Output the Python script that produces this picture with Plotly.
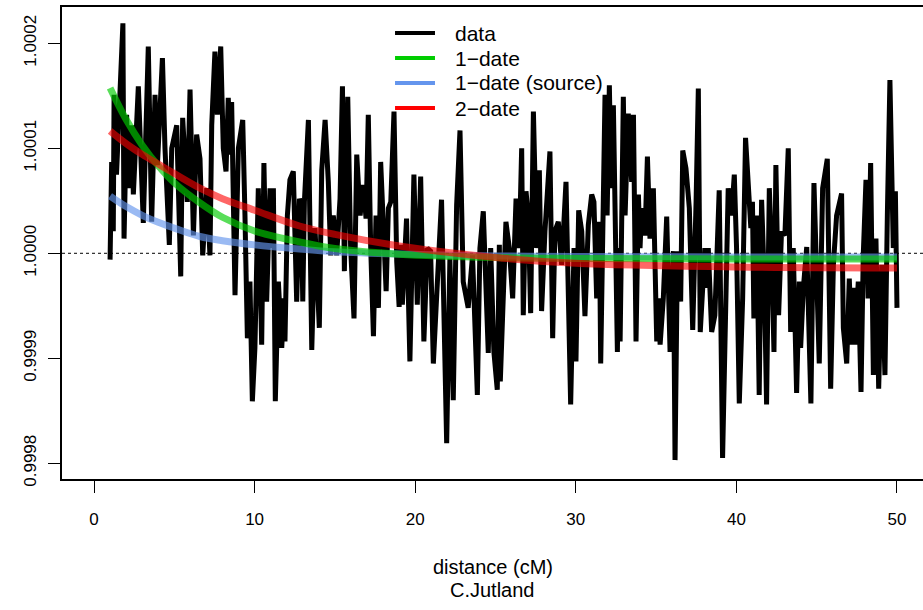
import plotly.graph_objects as go

# ---------------- data ----------------
data_x = [
    1.0, 1.1, 1.2, 1.25, 1.4, 1.8, 1.87, 2.03, 2.15, 2.35, 2.45, 2.76, 3.07, 3.38, 3.59, 3.8, 3.95, 4.26, 4.42, 4.69, 4.84, 5.15, 5.4, 5.52, 5.81, 5.98, 6.19, 6.39,
    6.6, 6.77, 7.02, 7.22, 7.33, 7.53, 7.68, 7.89, 8.05, 8.22, 8.36, 8.5, 8.57, 8.78, 8.99, 9.26, 9.4, 9.55, 9.71, 9.86, 10.02, 10.23, 10.44, 10.58, 10.75, 10.96, 11.06, 11.17, 11.29, 11.48, 11.69, 11.83, 11.89, 12.04, 12.2, 12.41, 12.62, 12.79,
    12.9, 13.0, 13.1, 13.35, 13.56, 13.76, 14.03, 14.18, 14.39, 14.59, 14.74, 14.9, 15.11, 15.32, 15.47, 15.59, 15.8, 15.98, 16.19, 16.36, 16.57, 16.77, 16.94, 17.08, 17.23, 17.4, 17.56, 17.71, 17.85, 18.02, 18.19, 18.33, 18.48, 18.68, 18.85, 19.0,
    19.1, 19.2, 19.46, 19.67, 19.92, 20.13, 20.34, 20.54, 20.75, 20.96, 21.13, 21.33, 21.64, 21.96, 22.16, 22.37, 22.58, 22.79, 22.99, 23.3, 23.57, 23.87, 24.03, 24.24, 24.4, 24.55, 24.7, 24.9, 25.11, 25.24,
    25.3, 25.49, 25.65, 25.86, 26.07, 26.28, 26.48, 26.63, 26.73, 26.9, 27.04, 27.19, 27.36, 27.56, 27.73, 27.87, 28.08, 28.39, 28.56, 28.7, 28.91, 29.12, 29.39, 29.54, 29.68, 29.89, 30.01, 30.18, 30.37, 30.57, 30.78, 30.99, 31.13, 31.3, 31.47,
    31.55, 31.65, 31.82, 31.95, 32.09, 32.2, 32.34, 32.59, 32.67, 32.76, 32.96, 33.07, 33.27, 33.48, 33.59, 33.75, 33.9, 34.0, 34.1, 34.31, 34.46, 34.62, 34.83, 35.04, 35.15, 35.25, 35.45, 35.66, 35.87, 36.08, 36.18, 36.33, 36.53, 36.66, 36.86, 37.07, 37.28, 37.49, 37.63,
    37.75, 38.04, 38.16, 38.25, 38.46, 38.66, 38.93, 39.14, 39.49, 39.7, 39.87, 40.01, 40.18, 40.39, 40.57, 40.78, 40.9, 41.0, 41.09, 41.26, 41.42, 41.57, 41.74, 41.88, 42.05, 42.19, 42.34, 42.46, 42.63, 42.81, 43.02, 43.23, 43.38, 43.54, 43.75, 43.92,
    44.0, 44.17, 44.38, 44.64, 44.83, 45.16, 45.37, 45.66, 45.87, 46.04, 46.24, 46.55, 46.66, 46.87, 47.03, 47.18, 47.3, 47.38, 47.59, 47.76, 47.9, 48.07, 48.2, 48.36, 48.53, 48.69, 48.86, 49.05, 49.25, 49.4, 49.56, 49.77, 49.9, 50.0,
]
data_y = [
    0.999994, 1.000087, 1.000021, 1.000151, 1.000075, 1.000219, 1.000014, 1.000132, 1.000062, 1.000122, 1.000056, 1.000159, 1.000029, 1.000197, 1.000030, 1.000151, 1.000084, 1.000186, 1.000100, 1.000008, 1.000100, 1.000122, 0.999978, 1.000129, 1.000049, 1.000156, 1.000017, 1.000113,
    1.000090, 0.999998, 1.000062, 0.999998, 1.000122, 1.000192, 1.000132, 1.000197, 1.000100, 1.000078, 1.000148, 1.000094, 1.000144, 0.999960, 1.000100, 1.000127, 1.000036, 0.999919, 0.999973, 0.999859, 0.999910, 1.000062, 0.999913, 1.000086, 0.999954, 1.000062, 1.000005, 1.000062, 0.999859, 0.999973, 0.999910, 0.999957, 0.999916, 1.000036, 1.000070, 1.000078, 0.999954, 1.000052,
    1.000046, 0.999954, 1.000049, 1.000127, 0.999908, 1.000024, 0.999929, 1.000079, 1.000127, 1.000068, 0.999998, 1.000036, 0.999998, 1.000052, 1.000159, 0.999983, 1.000149, 1.000005, 0.999938, 1.000094, 1.000036, 1.000065, 1.000033, 1.000132, 1.000005, 0.999921, 1.000036, 0.999948, 1.000087, 1.000024, 0.999964, 1.000043, 1.000049, 1.000135, 0.999992, 0.999949,
    1.000008, 0.999951, 1.000033, 0.999897, 1.000075, 0.999951, 1.000073, 0.999916, 1.000005, 1.000002, 0.999895, 0.999957, 1.000051, 0.999819, 0.999995, 0.999860, 1.000046, 1.000117, 0.999973, 0.999948, 0.999998, 0.999865, 1.000005, 1.000040, 0.999957, 0.999905, 1.000005, 0.999906, 0.999870, 1.000008,
    0.999878, 0.999957, 1.000030, 1.000005, 0.999957, 1.000052, 1.000005, 1.000100, 0.999941, 1.000059, 1.000036, 0.999943, 1.000135, 1.000005, 1.000079, 0.999945, 1.000021, 1.000097, 0.999919, 1.000021, 1.000030, 0.999989, 1.000068, 0.999957, 0.999856, 1.000005, 0.999897, 1.000041, 1.000021, 0.999940, 1.000027, 1.000056, 1.000049, 0.999957, 1.000030,
    0.999895, 1.000027, 1.000151, 1.000036, 1.000160, 1.000062, 1.000141, 0.999906, 1.000005, 0.999916, 1.000149, 1.000036, 1.000133, 1.000068, 1.000132, 0.999916, 1.000056, 1.000005, 1.000043, 1.000017, 1.000092, 1.000014, 1.000062, 0.999916, 0.999957, 0.999913, 0.999957, 1.000035, 0.999906, 1.000002, 0.999803, 1.000002, 0.999954, 1.000098, 1.000081, 1.000043, 0.999927, 1.000049, 1.000157,
    0.999925, 1.000005, 0.999967, 1.000005, 0.999925, 0.999941, 1.000060, 0.999805, 1.000062, 1.000036, 1.000075, 1.000005, 0.999857, 0.999957, 1.000110, 1.000049, 1.000024, 1.000049, 0.999938, 1.000036, 0.999865, 1.000051, 0.999973, 0.999856, 1.000062, 1.000005, 0.999906, 1.000084, 0.999941, 1.000021, 1.000017, 1.000100, 0.999925, 1.000005, 0.999867, 0.999973,
    0.999910, 0.999967, 1.000006, 0.999857, 1.000067, 0.999895, 1.000062, 1.000090, 0.999871, 0.999989, 1.000036, 1.000057, 0.999929, 0.999895, 0.999976, 0.999913, 0.999967, 0.999913, 0.999973, 0.999868, 0.999998, 1.000070, 0.999957, 1.000086, 0.999884, 1.000014, 0.999871, 0.999989, 0.999884, 1.000036, 1.000165, 1.000005, 1.000059, 0.999948,
]

curve_x = [1, 2, 3, 4, 5, 6.6, 8, 10, 12.8, 15, 19, 25, 30, 40, 50]
one_date_y = [1.0001575, 1.0001274, 1.0001030, 1.0000833, 1.0000672, 1.0000480, 1.0000343, 1.0000212,
              1.0000108, 1.0000045, 0.9999991, 0.9999959, 0.9999951, 0.9999946, 0.9999946]
one_date_source_y = [1.0000545, 1.0000445, 1.0000362, 1.0000295, 1.0000240, 1.0000160, 1.0000120, 1.0000080,
                     1.0000040, 1.0000015, 0.9999993, 0.9999975, 0.9999970, 0.9999965, 0.9999965]
two_date_y = [1.0001165, 1.0001045, 1.0000942, 1.0000850, 1.0000760, 1.0000620, 1.0000520, 1.0000410,
              1.0000260, 1.0000180, 1.0000070, 0.9999960, 0.9999905, 0.9999870, 0.9999860]

x_ticks = [0, 10, 20, 30, 40, 50]
y_ticks = [0.9998, 0.9999, 1.0000, 1.0001, 1.0002]
y_tick_labels = ["0.9998", "0.9999", "1.0000", "1.0001", "1.0002"]

legend_labels = ["data", "1\u2212date", "1\u2212date (source)", "2\u2212date"]
legend_colors = ["#000000", "#00CD00", "#6495ED", "#FF0000"]

x_label = "distance (cM)"
sub_label = "C.Jutland"

# ---------------- figure ----------------
FONT = "Liberation Sans, Arial, Helvetica, sans-serif"
fig = go.Figure()

fig.add_trace(go.Scatter(x=data_x, y=data_y, mode="lines",
                         line=dict(color="black", width=5), showlegend=False,
                         hoverinfo="skip"))
fig.add_trace(go.Scatter(x=curve_x, y=one_date_source_y, mode="lines",
                         line=dict(color="rgba(100,149,237,0.65)", width=7, shape="spline"),
                         showlegend=False))
fig.add_trace(go.Scatter(x=curve_x, y=one_date_y, mode="lines",
                         line=dict(color="rgba(0,205,0,0.65)", width=7, shape="spline"),
                         showlegend=False))
fig.add_trace(go.Scatter(x=curve_x, y=two_date_y, mode="lines",
                         line=dict(color="rgba(255,0,0,0.6)", width=7, shape="spline"),
                         showlegend=False))

shapes = [dict(type="line", xref="paper", x0=0, x1=1, yref="y", y0=1.0, y1=1.0,
               line=dict(color="black", width=1, dash="dot"), layer="below")]
annotations = []

# custom legend (no box), placed as in the reference
leg_rows = [0.9449, 0.8919, 0.8390, 0.7860]
for lab, col, yy in zip(legend_labels, legend_colors, leg_rows):
    shapes.append(dict(type="line", xref="paper", yref="paper", x0=0.3868, x1=0.4332,
                       y0=yy, y1=yy, line=dict(color=col, width=4), layer="above"))
    annotations.append(dict(xref="paper", yref="paper", x=0.4541, y=yy, text=lab,
                            showarrow=False, xanchor="left", yanchor="middle",
                            font=dict(family=FONT, size=21, color="black")))

annotations.append(dict(xref="paper", yref="paper", x=0.5, y=0, yshift=-88,
                        text=x_label, showarrow=False, xanchor="center", yanchor="middle",
                        font=dict(family=FONT, size=20, color="black")))
annotations.append(dict(xref="paper", yref="paper", x=0.5, y=0, yshift=-111,
                        text=sub_label, showarrow=False, xanchor="center", yanchor="middle",
                        font=dict(family=FONT, size=20, color="black")))

fig.update_layout(
    width=923, height=610,
    margin=dict(l=62, r=0, t=7, b=131),
    paper_bgcolor="white", plot_bgcolor="white",
    font=dict(family=FONT, size=17, color="black"),
    showlegend=False,
    shapes=shapes, annotations=annotations,
    xaxis=dict(range=[-1.993, 51.62], tickmode="array", tickvals=x_ticks,
               ticks="outside", ticklen=12, tickwidth=1.3, tickcolor="black",
               showline=True, linecolor="black", linewidth=1.5, mirror=True,
               showgrid=False, zeroline=False, ticklabelstandoff=12,
               tickfont=dict(family=FONT, size=17, color="black")),
    yaxis=dict(range=[0.999785, 1.0002346], tickmode="array", tickvals=y_ticks,
               ticktext=y_tick_labels, tickangle=-90,
               ticks="outside", ticklen=12, tickwidth=1.3, tickcolor="black",
               showline=True, linecolor="black", linewidth=1.5, mirror=False,
               showgrid=False, zeroline=False, ticklabelstandoff=5,
               tickfont=dict(family=FONT, size=17, color="black")),
)

fig.write_html("out.html",
               config={"displayModeBar": False},
               post_script="document.body.style.margin='0';document.body.style.overflow='hidden';")
